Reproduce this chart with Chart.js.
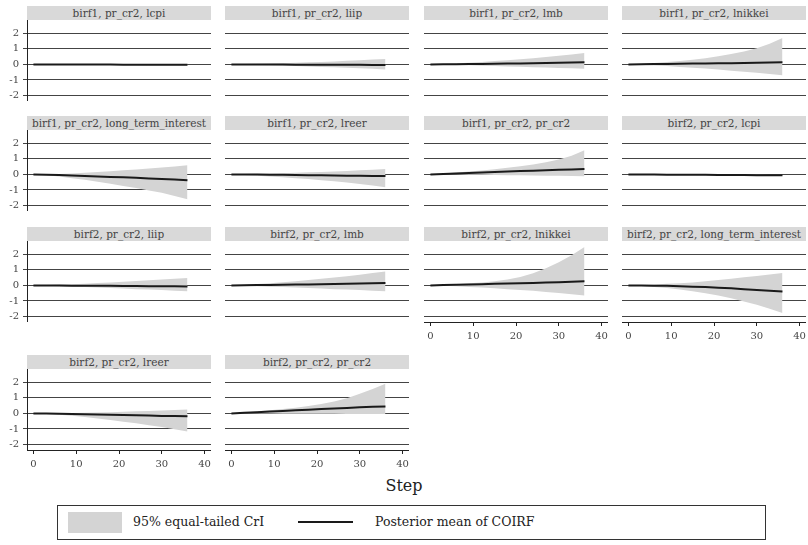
<!DOCTYPE html>
<html>
<head>
<meta charset="utf-8">
<script src="https://cdn.jsdelivr.net/npm/chart.js@4.4.0/dist/chart.umd.min.js"></script>
<style>
  body { margin: 0; background: #fff; width: 808px; height: 545px; position: relative; overflow: hidden; font-family: "DejaVu Serif", serif; }
  .ttl { position: absolute; height: 14px; line-height: 14px; background: #d9d9d9; color: #444; font-size: 10.5px; text-align: center; white-space: nowrap; overflow: hidden; }
  .box { position: absolute; }
  #step { position: absolute; left: 0; width: 808px; top: 476px; text-align: center; font-size: 16px; color: #222; }
  #legend { position: absolute; left: 57px; top: 505px; width: 709px; height: 35px; border: 1px solid #333; box-sizing: border-box; font-size: 12.5px; color: #222; }
  #legend .sw { position: absolute; left: 10px; top: 6px; width: 54px; height: 21px; background: #d4d4d4; }
  #legend .ln { position: absolute; left: 240px; top: 15px; width: 55px; height: 2px; background: #1a1a1a; }
  #legend .tx { position: absolute; top: 8px; white-space: nowrap; }
</style>
</head>
<body>
<div id="step">Step</div>
<div id="legend">
  <div class="sw"></div><div class="tx" style="left:75px">95% equal-tailed CrI</div>
  <div class="ln"></div><div class="tx" style="left:317px">Posterior mean of COIRF</div>
</div>
<script>
// steps shown on the x axis (every 3rd step)
const steps = [0, 3, 6, 9, 12, 15, 18, 21, 24, 27, 30, 33, 36];
const xTicks = [0, 10, 20, 30, 40];
const yTicks = [-2, -1, 0, 1, 2];

const titles = [
  'birf1, pr_cr2, lcpi', 'birf1, pr_cr2, liip', 'birf1, pr_cr2, lmb', 'birf1, pr_cr2, lnikkei',
  'birf1, pr_cr2, long_term_interest', 'birf1, pr_cr2, lreer', 'birf1, pr_cr2, pr_cr2', 'birf2, pr_cr2, lcpi',
  'birf2, pr_cr2, liip', 'birf2, pr_cr2, lmb', 'birf2, pr_cr2, lnikkei', 'birf2, pr_cr2, long_term_interest',
  'birf2, pr_cr2, lreer', 'birf2, pr_cr2, pr_cr2'
];

// birf1
const meanB1Lcpi = [0, 0, -0.003, -0.005, -0.007, -0.01, -0.012, -0.015, -0.017, -0.02, -0.022, -0.025, -0.028];
const hiB1Lcpi   = [0, 0.005, 0.005, 0.006, 0.007, 0.008, 0.008, 0.009, 0.01, 0.01, 0.01, 0.01, 0.01];
const loB1Lcpi   = [0, -0.006, -0.01, -0.015, -0.02, -0.025, -0.03, -0.036, -0.042, -0.048, -0.054, -0.06, -0.066];

const meanB1Liip = [0, -0.003, -0.006, -0.009, -0.012, -0.015, -0.018, -0.021, -0.024, -0.027, -0.03, -0.033, -0.036];
const hiB1Liip   = [0, 0.02, 0.04, 0.06, 0.08, 0.1, 0.13, 0.16, 0.19, 0.23, 0.27, 0.31, 0.35];
const loB1Liip   = [0, -0.02, -0.04, -0.06, -0.08, -0.1, -0.13, -0.16, -0.19, -0.22, -0.25, -0.28, -0.32];

const meanB1Lmb = [0, 0.005, 0.01, 0.02, 0.03, 0.04, 0.05, 0.06, 0.07, 0.085, 0.1, 0.115, 0.13];
const hiB1Lmb   = [0, 0.03, 0.07, 0.11, 0.16, 0.21, 0.27, 0.33, 0.4, 0.47, 0.55, 0.64, 0.73];
const loB1Lmb   = [0, -0.02, -0.04, -0.06, -0.08, -0.1, -0.13, -0.15, -0.18, -0.2, -0.23, -0.25, -0.28];

const meanB1Lnikkei = [0, 0.01, 0.02, 0.03, 0.04, 0.05, 0.06, 0.07, 0.08, 0.09, 0.1, 0.115, 0.13];
const hiB1Lnikkei   = [0, 0.04, 0.09, 0.15, 0.22, 0.3, 0.4, 0.52, 0.66, 0.83, 1.04, 1.33, 1.7];
const loB1Lnikkei   = [0, -0.03, -0.07, -0.11, -0.16, -0.21, -0.27, -0.33, -0.4, -0.47, -0.54, -0.61, -0.69];

const meanB1Lti = [0, -0.02, -0.04, -0.07, -0.1, -0.13, -0.16, -0.19, -0.22, -0.26, -0.29, -0.33, -0.37];
const hiB1Lti   = [0, 0.01, 0.03, 0.06, 0.1, 0.15, 0.2, 0.26, 0.32, 0.38, 0.44, 0.51, 0.58];
const loB1Lti   = [0, -0.06, -0.14, -0.24, -0.35, -0.47, -0.6, -0.74, -0.88, -1.03, -1.18, -1.38, -1.59];

const meanB1Lreer = [0, -0.005, -0.01, -0.02, -0.03, -0.04, -0.05, -0.06, -0.07, -0.08, -0.09, -0.1, -0.11];
const hiB1Lreer   = [0, 0.02, 0.04, 0.06, 0.08, 0.1, 0.13, 0.16, 0.19, 0.22, 0.26, 0.3, 0.34];
const loB1Lreer   = [0, -0.04, -0.08, -0.13, -0.18, -0.24, -0.3, -0.37, -0.44, -0.52, -0.61, -0.71, -0.82];

const meanB1Prcr2 = [0, 0.03, 0.06, 0.09, 0.12, 0.15, 0.18, 0.21, 0.24, 0.27, 0.3, 0.32, 0.35];
const hiB1Prcr2   = [0, 0.06, 0.12, 0.18, 0.25, 0.33, 0.42, 0.52, 0.64, 0.78, 0.95, 1.2, 1.55];
const loB1Prcr2   = [0, 0, -0.01, -0.02, -0.03, -0.04, -0.05, -0.06, -0.07, -0.08, -0.09, -0.1, -0.12];

// birf2
const meanB2Lcpi = [0, -0.005, -0.01, -0.015, -0.02, -0.025, -0.03, -0.035, -0.04, -0.045, -0.05, -0.055, -0.06];
const hiB2Lcpi   = [0, 0.004, 0.002, 0, -0.002, -0.004, -0.006, -0.008, -0.01, -0.012, -0.014, -0.016, -0.018];
const loB2Lcpi   = [0, -0.014, -0.022, -0.03, -0.038, -0.046, -0.054, -0.062, -0.07, -0.078, -0.086, -0.094, -0.1];

const meanB2Liip = [0, -0.005, -0.01, -0.015, -0.02, -0.025, -0.03, -0.04, -0.045, -0.05, -0.055, -0.06, -0.07];
const hiB2Liip   = [0, 0.02, 0.05, 0.08, 0.11, 0.15, 0.19, 0.23, 0.28, 0.33, 0.38, 0.43, 0.47];
const loB2Liip   = [0, -0.02, -0.05, -0.08, -0.11, -0.14, -0.17, -0.2, -0.24, -0.27, -0.3, -0.34, -0.37];

const meanB2Lmb = [0, 0.01, 0.02, 0.03, 0.04, 0.05, 0.06, 0.075, 0.09, 0.1, 0.12, 0.13, 0.15];
const hiB2Lmb   = [0, 0.04, 0.09, 0.14, 0.2, 0.27, 0.34, 0.42, 0.5, 0.59, 0.69, 0.79, 0.9];
const loB2Lmb   = [0, -0.02, -0.05, -0.08, -0.11, -0.14, -0.17, -0.2, -0.24, -0.27, -0.3, -0.34, -0.37];

const meanB2Lnikkei = [0, 0.02, 0.04, 0.06, 0.08, 0.1, 0.12, 0.14, 0.16, 0.18, 0.2, 0.23, 0.26];
const hiB2Lnikkei   = [0, 0.04, 0.08, 0.13, 0.19, 0.27, 0.38, 0.54, 0.78, 1.1, 1.48, 1.93, 2.47];
const loB2Lnikkei   = [0, -0.03, -0.06, -0.1, -0.14, -0.19, -0.24, -0.29, -0.35, -0.42, -0.49, -0.57, -0.65];

const meanB2Lti = [0, -0.005, -0.015, -0.03, -0.05, -0.08, -0.11, -0.15, -0.19, -0.24, -0.29, -0.34, -0.39];
const hiB2Lti   = [0, 0.03, 0.06, 0.1, 0.14, 0.19, 0.26, 0.34, 0.43, 0.52, 0.61, 0.7, 0.8];
const loB2Lti   = [0, -0.04, -0.1, -0.17, -0.26, -0.37, -0.5, -0.65, -0.83, -1.03, -1.25, -1.5, -1.77];

const meanB2Lreer = [0, -0.01, -0.02, -0.035, -0.05, -0.065, -0.08, -0.1, -0.12, -0.14, -0.16, -0.175, -0.19];
const hiB2Lreer   = [0, 0.01, 0.02, 0.03, 0.045, 0.06, 0.08, 0.1, 0.13, 0.16, 0.19, 0.22, 0.25];
const loB2Lreer   = [0, -0.04, -0.09, -0.15, -0.23, -0.32, -0.42, -0.53, -0.64, -0.76, -0.88, -1.02, -1.16];

const meanB2Prcr2 = [0, 0.04, 0.08, 0.12, 0.16, 0.2, 0.24, 0.28, 0.32, 0.35, 0.39, 0.42, 0.45];
const hiB2Prcr2   = [0, 0.06, 0.13, 0.2, 0.28, 0.37, 0.47, 0.6, 0.76, 0.98, 1.26, 1.57, 1.91];
const loB2Prcr2   = [0, 0, -0.005, -0.01, -0.015, -0.02, -0.025, -0.03, -0.03, -0.035, -0.04, -0.04, -0.04];

const means = [meanB1Lcpi, meanB1Liip, meanB1Lmb, meanB1Lnikkei, meanB1Lti, meanB1Lreer, meanB1Prcr2,
  meanB2Lcpi, meanB2Liip, meanB2Lmb, meanB2Lnikkei, meanB2Lti, meanB2Lreer, meanB2Prcr2];
const uppers = [hiB1Lcpi, hiB1Liip, hiB1Lmb, hiB1Lnikkei, hiB1Lti, hiB1Lreer, hiB1Prcr2,
  hiB2Lcpi, hiB2Liip, hiB2Lmb, hiB2Lnikkei, hiB2Lti, hiB2Lreer, hiB2Prcr2];
const lowers = [loB1Lcpi, loB1Liip, loB1Lmb, loB1Lnikkei, loB1Lti, loB1Lreer, loB1Prcr2,
  loB2Lcpi, loB2Liip, loB2Lmb, loB2Lnikkei, loB2Lti, loB2Lreer, loB2Prcr2];

// layout of the small multiples
const colLeft = [27, 225, 424, 622];
const rowTop = [20, 130, 241, 369];
const plotW = 184, plotH = 81, yAxisW = 27, xAxisH = 30;
const font = { family: '"DejaVu Serif", serif', size: 10 };
const bandColor = '#d4d4d4';

const pts = arr => steps.map((s, i) => ({ x: s, y: arr[i] }));

titles.forEach((title, i) => {
  const r = Math.floor(i / 4), c = i % 4;
  const hasX = i >= 10;
  const hasY = c === 0;

  const t = document.createElement('div');
  t.className = 'ttl';
  t.style.left = colLeft[c] + 'px';
  t.style.top = (rowTop[r] - 14) + 'px';
  t.style.width = plotW + 'px';
  t.textContent = title;
  document.body.appendChild(t);

  const box = document.createElement('div');
  box.className = 'box';
  const left = hasY ? 0 : colLeft[c];
  const w = hasY ? colLeft[c] + plotW : plotW;
  const h = plotH + (hasX ? xAxisH : 0);
  box.style.left = left + 'px';
  box.style.top = rowTop[r] + 'px';
  box.style.width = w + 'px';
  box.style.height = h + 'px';
  const cv = document.createElement('canvas');
  box.appendChild(cv);
  document.body.appendChild(box);

  new Chart(cv, {
    type: 'line',
    data: {
      datasets: [
        { data: pts(means[i]), borderColor: '#1a1a1a', borderWidth: 2, pointRadius: 0, fill: false },
        { data: pts(uppers[i]), borderColor: 'rgba(0,0,0,0)', borderWidth: 0, pointRadius: 0, fill: false },
        { data: pts(lowers[i]), borderColor: 'rgba(0,0,0,0)', borderWidth: 0, pointRadius: 0, fill: '-1', backgroundColor: bandColor }
      ]
    },
    options: {
      responsive: true,
      maintainAspectRatio: false,
      animation: false,
      layout: { padding: 0 },
      plugins: { legend: { display: false }, tooltip: { enabled: false } },
      scales: {
        x: {
          type: 'linear', min: -1.5, max: 41.5, display: hasX,
          afterBuildTicks: s => { s.ticks = xTicks.map(v => ({ value: v })); },
          afterFit: s => { s.height = hasX ? xAxisH : 0; s.paddingLeft = 0; s.paddingRight = 0; },
          grid: { drawOnChartArea: false, tickLength: 4, color: '#222' },
          border: { display: true, color: '#222', width: 1 },
          ticks: { font: font, color: '#444', padding: 4, maxRotation: 0, autoSkip: false }
        },
        y: {
          min: -2.35, max: 2.85,
          afterBuildTicks: s => { s.ticks = yTicks.map(v => ({ value: v })); },
          afterFit: s => { s.width = hasY ? yAxisW : 0; s.paddingTop = 0; s.paddingBottom = 0; },
          grid: { color: '#444', lineWidth: 1, drawTicks: hasY, tickLength: 4 },
          border: { display: hasY, color: '#222', width: 1 },
          ticks: { display: hasY, font: font, color: '#444', padding: 4, autoSkip: false }
        }
      }
    }
  });
});
</script>
</body>
</html>
